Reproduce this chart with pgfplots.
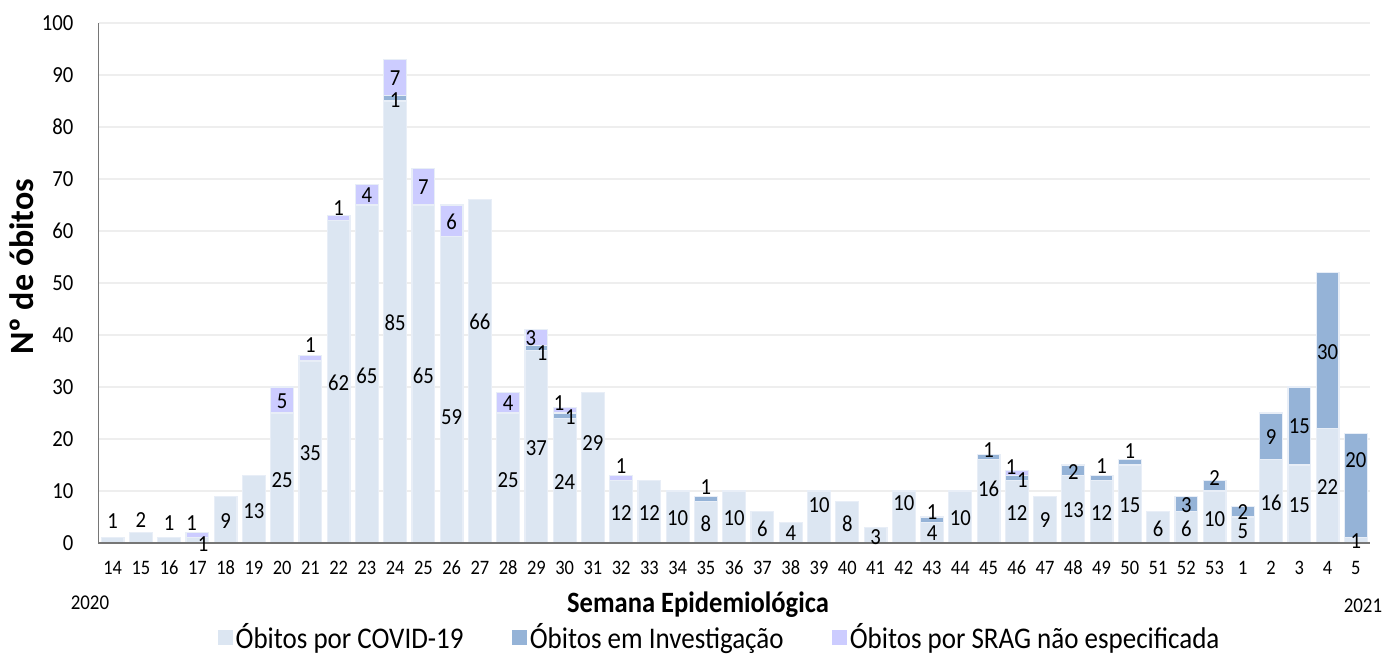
\documentclass[border=0pt]{standalone}
\usepackage{pgfplots}
\pgfplotsset{compat=1.18}
\usepackage{pgfplotstable}
\usepackage{fontspec}
\setmainfont{Carlito}[FakeStretch=0.9]
\newfontfamily\ylabfont{Carlito}
\newcommand\fs[1]{\fontsize{#1}{#1}\selectfont}
\definecolor{ccovid}{RGB}{220,230,242}
\definecolor{cinv}{RGB}{149,179,215}
\definecolor{csrag}{RGB}{204,204,255}
\definecolor{cborder}{RGB}{232,238,247}
\definecolor{cgrid}{RGB}{238,238,238}
\definecolor{caxis}{RGB}{118,118,118}

\pgfplotstableread{
x c i s
0 1 0 0
1 2 0 0
2 1 0 0
3 1 0 1
4 9 0 0
5 13 0 0
6 25 0 5
7 35 0 1
8 62 0 1
9 65 0 4
10 85 1 7
11 65 0 7
12 59 0 6
13 66 0 0
14 25 0 4
15 37 1 3
16 24 1 1
17 29 0 0
18 12 0 1
19 12 0 0
20 10 0 0
21 8 1 0
22 10 0 0
23 6 0 0
24 4 0 0
25 10 0 0
26 8 0 0
27 3 0 0
28 10 0 0
29 4 1 0
30 10 0 0
31 16 1 0
32 12 1 1
33 9 0 0
34 13 2 0
35 12 1 0
36 15 1 0
37 6 0 0
38 6 3 0
39 10 2 0
40 5 2 0
41 16 9 0
42 15 15 0
43 22 30 0
44 1 20 0
}\datatable

\pgfplotstableread{
x y t
0 4.3 1
1 4.4 2
2 3.8 1
2.8 3.8 1
3.2 -0.2 1
4 4.2 9
5 6.2 13
6 27.3 5
6 12.1 25
7 38.1 1
7 17.3 35
8 64.4 1
8 30.8 62
9 66.9 4
9 32.2 65
10 89.4 7
10 85.2 1
10 42.3 85
11 68.5 7
11 32.2 65
12 61.8 6
12 24.2 59
13 42.6 66
14 26.9 4
14 12.1 25
14.8 39.4 3
15.2 36.6 1
15 18.2 37
15.8 26.9 1
16.2 24.3 1
16 11.8 24
17 19.3 29
18 14.7 1
18 5.7 12
19 5.7 12
20 4.7 10
21 10.8 1
21 3.8 8
22 4.7 10
23 2.8 6
24 1.9 4
25 7.3 10
26 3.8 8
27 1.2 3
28 7.6 10
29 6.0 1
29 1.9 4
30 4.7 10
31 17.9 1
31 10.5 16
31.8 14.6 1
32.2 12.1 1
32 5.7 12
33 4.4 9
34 13.7 2
34 6.3 13
35 14.8 1
35 5.7 12
36 17.6 1
36 7.3 15
37 2.8 6
38 7.3 3
38 2.8 6
39 12.4 2
39 4.6 10
40 5.9 2
40 2.2 5
41 20.3 9
41 7.8 16
42 22.4 15
42 7.3 15
43 36.8 30
43 10.7 22
44 16.0 20
44 0.3 1
}\labtable

\begin{document}
\begin{tikzpicture}
\path[use as bounding box] (0,0) rectangle (1385pt,655pt);
\begin{axis}[
  at={(98.5pt,112pt)}, anchor=south west,
  scale only axis, width=1271.5pt, height=520pt,
  xmin=-0.5, xmax=44.5, ymin=0, ymax=100,
  ybar stacked, bar width=22.8pt,
  ymajorgrids, grid style={cgrid, line width=1.5pt},
  axis x line=bottom, axis y line=left, axis line style={draw=none},
  major tick length=0pt,
  /pgf/number format/assume math mode=true,
  xtick={0,...,44},
  xticklabels={14,15,16,17,18,19,20,21,22,23,24,25,26,27,28,29,30,31,32,33,34,35,36,37,38,39,40,41,42,43,44,45,46,47,48,49,50,51,52,53,1,2,3,4,5},
  ytick={0,10,...,100},
  xticklabel style={font=\fs{20.5}, anchor=center, yshift=-25pt, inner sep=0pt},
  yticklabel style={font=\fs{23}, anchor=east, xshift=-25pt, inner sep=0pt},
  legend style={at={(0.4888,-0.181)}, anchor=center, draw=none, fill=none,
    legend columns=3, font=\fs{30}, inner sep=0pt,
    nodes={inner sep=2.5pt},
    /tikz/every even column/.append style={column sep=46pt}},
  legend cell align=left,
]
\addplot[fill=ccovid, draw=cborder, line width=1.2pt,
  legend image code/.code={\fill[ccovid] (0pt,-7pt) rectangle (14pt,7pt);}]
  table[x=x,y=c] {\datatable};
\addlegendentry{Óbitos por COVID-19}
\addplot[fill=cinv, draw=cborder, line width=1.2pt,
  legend image code/.code={\fill[cinv] (0pt,-7pt) rectangle (14pt,7pt);}]
  table[x=x,y=i] {\datatable};
\addlegendentry{Óbitos em Investigação}
\addplot[fill=csrag, draw=cborder, line width=1.2pt,
  legend image code/.code={\fill[csrag] (0pt,-7pt) rectangle (14pt,7pt);}]
  table[x=x,y=s] {\datatable};
\addlegendentry{Óbitos por SRAG não especificada}
\end{axis}
\begin{axis}[
  at={(98.5pt,112pt)}, anchor=south west,
  scale only axis, width=1271.5pt, height=520pt,
  xmin=-0.5, xmax=44.5, ymin=0, ymax=100,
  axis x line=bottom, axis y line=left,
  axis line style={caxis, line width=1.5pt, -},
  xtick=\empty, ytick=\empty,
  clip=false,
  xlabel={\fs{29.5}\bfseries Semana Epidemiológica},
  xlabel style={at={(axis description cs:0.4715,-0.119)}, anchor=center},
  ylabel={\ylabfont\fs{34}\bfseries Nº de óbitos},
  ylabel style={at={(axis description cs:-0.0602,0.531)}, anchor=center},
]
\addplot[only marks, mark=*, mark size=0pt, mark options={draw=none,fill=none},
  nodes near coords, point meta=explicit symbolic,
  nodes near coords align=center,
  every node near coord/.append style={font=\fs{23}, inner sep=0pt, anchor=center}]
  table[x=x,y=y,meta=t] {\labtable};
\node[font=\fs{21}, anchor=center] at (axis description cs:-0.0067,-0.115) {2020};
\node[font=\fs{21}, anchor=center] at (axis description cs:0.9945,-0.121) {2021};
\end{axis}
\end{tikzpicture}
\end{document}
